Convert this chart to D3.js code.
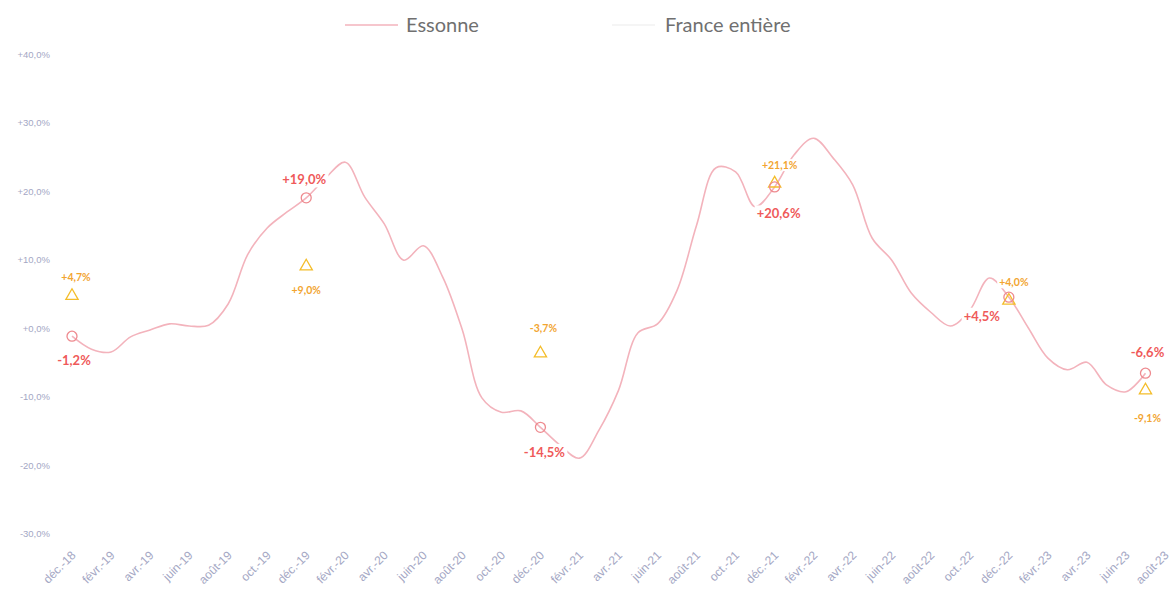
<!DOCTYPE html>
<html>
<head>
<meta charset="utf-8">
<script src="https://cdn.jsdelivr.net/npm/d3@7"></script>
<style>
  body { margin: 0; background: #fff; }
  svg { display: block; font-family: Lato, "Open Sans", sans-serif; }
  .axis text { fill: #a4a7c4; }
</style>
</head>
<body>
<svg id="chart" width="1176" height="594"></svg>
<script>
// Monthly categories, déc.-18 to août-23.
var months = [
    'déc.-18',
    'janv.-19', 'févr.-19', 'mars-19', 'avr.-19', 'mai-19', 'juin-19', 'juil.-19', 'août-19', 'sept.-19', 'oct.-19', 'nov.-19', 'déc.-19',
    'janv.-20', 'févr.-20', 'mars-20', 'avr.-20', 'mai-20', 'juin-20', 'juil.-20', 'août-20', 'sept.-20', 'oct.-20', 'nov.-20', 'déc.-20',
    'janv.-21', 'févr.-21', 'mars-21', 'avr.-21', 'mai-21', 'juin-21', 'juil.-21', 'août-21', 'sept.-21', 'oct.-21', 'nov.-21', 'déc.-21',
    'janv.-22', 'févr.-22', 'mars-22', 'avr.-22', 'mai-22', 'juin-22', 'juil.-22', 'août-22', 'sept.-22', 'oct.-22', 'nov.-22', 'déc.-22',
    'janv.-23', 'févr.-23', 'mars-23', 'avr.-23', 'mai-23', 'juin-23', 'juil.-23', 'août-23'
];

// Essonne, yearly change in %, déc.-18 to juil.-23.
var essonne = [
    -1.2,
    -3.1, -3.5, -1.3, -0.3, 0.6, 0.3, 0.4, 3.5, 10.7, 14.6, 16.9, 19.0,
    21.9, 24.2, 19.1, 15.2, 9.9, 12.0, 7.4, -0.3, -10.2, -12.3, -12.1, -14.5,
    -17.1, -19.0, -14.9, -9.1, -0.7, 0.6, 5.5, 15.0, 23.4, 22.8, 17.7, 20.6,
    25.3, 27.7, 24.8, 20.9, 13.1, 9.9, 5.1, 2.3, 0.3, 2.6, 7.3, 4.5,
    0.0, -4.4, -6.1, -5.0, -8.3, -9.3, -6.6
];

// Annotated months and their values.
var markIdx = [0, 12, 24, 36, 48, 55];
var essonneMarks = [-1.2, 19.0, -14.5, 20.6, 4.5, -6.6];
var franceMarks = [4.7, 9.0, -3.7, 21.1, 4.0, -9.1];

// Y tick values
var yTicks = [-30, -20, -10, 0, 10, 20, 30, 40];

// Label offsets from each marker [dx, dy]
var essonneLabelOff = [[2, 24], [-2, -18], [4, 25], [4, 27], [-27, 19], [2, -21]];
var franceLabelOff = [[4, -18], [0, 24], [3, -25], [5, -18], [5, -18], [2, 28]];

var svg = d3.select('#chart');

var x = d3.scalePoint().domain(months).range([72, 1165]);
var y = d3.scaleLinear().domain([-30, 40]).range([533.5, 54]);

var fmt = function(v) {
    return (v >= 0 ? '+' : '') + v.toFixed(1).replace('.', ',') + '%';
};

// Y axis (no line, no ticks)
var yAxis = svg.append('g').attr('class', 'axis')
    .attr('transform', 'translate(50,0)')
    .call(d3.axisLeft(y).tickValues(yTicks).tickSize(0).tickPadding(0).tickFormat(fmt));
yAxis.select('.domain').remove();
yAxis.selectAll('text').style('font-size', '9.5px');

// X axis, one label every two months, rotated
var xAxis = svg.append('g').attr('class', 'axis')
    .attr('transform', 'translate(0,553)')
    .call(d3.axisBottom(x).tickValues(months.filter(function(d, i) { return i % 2 === 0; })).tickSize(0));
xAxis.select('.domain').remove();
xAxis.selectAll('text')
    .style('font-size', '12px')
    .style('text-anchor', 'end')
    .attr('dy', '0.35em')
    .attr('transform', 'translate(1,0) rotate(-45)')
    .attr('y', 0).attr('x', 0);

// Essonne line
var line = d3.line()
    .x(function(d, i) { return x(months[i]); })
    .y(function(d) { return y(d); })
    .curve(d3.curveCatmullRom.alpha(0.5));

svg.append('path')
    .datum(essonne)
    .attr('d', line)
    .attr('fill', 'none')
    .attr('stroke', '#f3b3bc')
    .attr('stroke-width', 1.6);

// Labels with a white box behind them (hides the line as in the reference)
var addLabel = function(cx, cy, txt, color, size) {
    var g = svg.append('g');
    var t = g.append('text')
        .attr('x', cx).attr('y', cy)
        .attr('dy', '0.35em')
        .style('text-anchor', 'middle')
        .style('font-size', size + 'px')
        .style('font-weight', 'bold')
        .style('fill', color)
        .text(txt);
    var b = t.node().getBBox();
    g.insert('rect', 'text')
        .attr('x', b.x - 2).attr('y', b.y)
        .attr('width', b.width + 4).attr('height', b.height)
        .attr('fill', '#fff');
};

// France markers (triangles) and Essonne markers (circles)
var tri = d3.symbol().type(d3.symbolTriangle).size(65);
markIdx.forEach(function(m, i) {
    var cx = x(months[m]);
    svg.append('path')
        .attr('d', tri)
        .attr('transform', 'translate(' + cx + ',' + y(franceMarks[i]) + ')')
        .attr('fill', 'none')
        .attr('stroke', '#f4bd2a')
        .attr('stroke-width', 1.3);
    svg.append('circle')
        .attr('cx', cx).attr('cy', y(essonneMarks[i]))
        .attr('r', 5)
        .attr('fill', 'none')
        .attr('stroke', '#ee8a8f')
        .attr('stroke-width', 1.3);
});

markIdx.forEach(function(m, i) {
    var cx = x(months[m]);
    addLabel(cx + essonneLabelOff[i][0], y(essonneMarks[i]) + essonneLabelOff[i][1],
        fmt(essonneMarks[i]), '#ef5a5a', 13);
    addLabel(cx + franceLabelOff[i][0], y(franceMarks[i]) + franceLabelOff[i][1],
        fmt(franceMarks[i]), '#f2a531', 10.5);
});

// Legend
var legend = svg.append('g').attr('transform', 'translate(0,25)');
legend.append('line')
    .attr('x1', 345).attr('x2', 398).attr('y1', 0).attr('y2', 0)
    .attr('stroke', '#f3b3bc').attr('stroke-width', 1.6);
legend.append('text')
    .attr('x', 406).attr('dy', '0.35em')
    .style('font-size', '20px').style('fill', '#707070')
    .text('Essonne');
legend.append('line')
    .attr('x1', 612).attr('x2', 655).attr('y1', 0).attr('y2', 0)
    .attr('stroke', '#f2f2f2').attr('stroke-width', 1.6);
legend.append('text')
    .attr('x', 665).attr('dy', '0.35em')
    .style('font-size', '20px').style('fill', '#707070')
    .text('France entière');
</script>
</body>
</html>
